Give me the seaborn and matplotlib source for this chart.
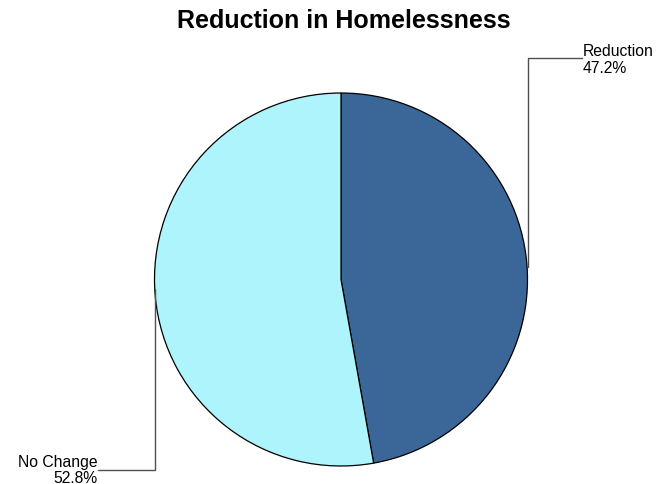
import matplotlib
matplotlib.use("Agg")
import matplotlib.pyplot as plt
import seaborn as sns

sns.set_theme(style="white")
plt.rcParams['font.family'] = ['Liberation Sans', 'DejaVu Sans']

categories = ["Reduction", "No Change"]
values = [47.2, 52.8]
colors = ["#3A6698", "#AEF4FC"]
title = "Reduction in Homelessness"

W, H = 663, 485
fig = plt.figure(figsize=(W / 100, H / 100), dpi=100)
ax = fig.add_axes([0, 0, 1, 1])

cx, cy, r = 341, H - 280.5, 186.5
ax.pie(values, colors=colors, startangle=90, counterclock=False,
       radius=r, center=(cx, cy),
       wedgeprops=dict(edgecolor="black", linewidth=0.9))
ax.set_xlim(0, W)
ax.set_ylim(0, H)
ax.set_aspect("equal")
ax.axis("off")

def py(y):
    return H - y

lc = "#505050"
fs = 11.3
# Reduction leader
ax.plot([cx + r, cx + r, 582], [py(268), py(59), py(59)], color=lc, lw=1)
ax.text(583, py(56.5), categories[0], ha="left", va="baseline", fontsize=fs, color="black")
ax.text(583, py(72.7), f"{values[0]:.1f}%", ha="left", va="baseline", fontsize=fs, color="black")
# No Change leader
ax.plot([cx - r, cx - r, 98], [py(290), py(470.5), py(470.5)], color=lc, lw=1)
ax.text(97.5, py(467), categories[1], ha="right", va="baseline", fontsize=fs, color="black")
ax.text(97.5, py(483), f"{values[1]:.1f}%", ha="right", va="baseline", fontsize=fs, color="black")

ax.text(344, py(28.5), title, ha="center", va="baseline",
        fontsize=18, fontweight="bold", color="black")

fig.savefig("out.png", dpi=100, facecolor="white")
